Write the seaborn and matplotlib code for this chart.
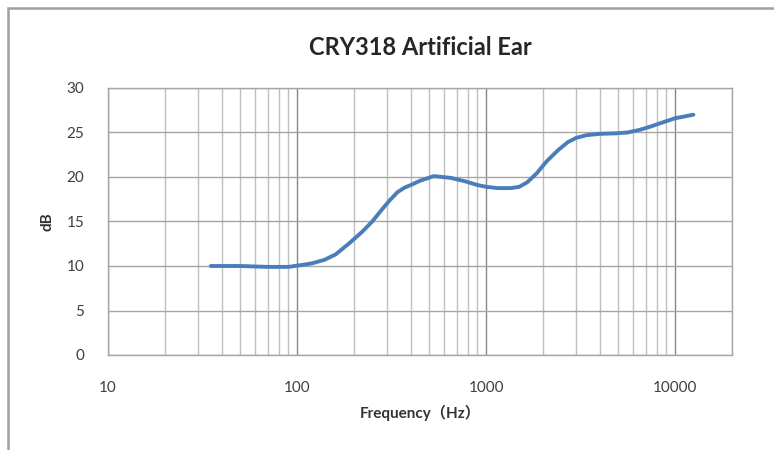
#!/usr/bin/env python3
# CRY318 artificial ear frequency response (log x axis)

import pandas as pd
import matplotlib.pyplot as plt
import seaborn as sns
from matplotlib.patches import Rectangle
from matplotlib.ticker import FixedLocator, LogLocator, NullFormatter

# ============================================================================
# DATA
# ============================================================================
freq_hz = [35, 50, 70, 90, 105, 120, 140, 160, 190, 220, 250, 280, 310, 340,
           370, 400, 450, 530, 650, 780, 900, 1000, 1150, 1350, 1500, 1650,
           1850, 2100, 2400, 2700, 3000, 3400, 4000, 4800, 5600, 6500, 7500,
           8500, 10000, 12500]
level_db = [10.0, 10.0, 9.9, 9.9, 10.1, 10.3, 10.7, 11.3, 12.6, 13.8, 15.0,
            16.3, 17.4, 18.3, 18.8, 19.1, 19.6, 20.1, 19.9, 19.5, 19.1, 18.9,
            18.75, 18.75, 18.9, 19.4, 20.4, 21.8, 23.0, 23.9, 24.4, 24.7,
            24.85, 24.9, 25.0, 25.3, 25.7, 26.1, 26.6, 27.0]
x_ticks = [10, 100, 1000, 10000]
x_tick_labels = ["10", "100", "1000", "10000"]
y_ticks = [0, 5, 10, 15, 20, 25, 30]

df = pd.DataFrame({"freq": freq_hz, "db": level_db})

# ============================================================================
# THEME SETTINGS
# ============================================================================
sns.set_theme(style="white")
plt.rcParams['font.family'] = ['Lato', 'Noto Sans CJK SC', 'DejaVu Sans']

line_blue = '#4A7EBB'
grid_light = '#BFBFBF'
grid_major = '#878787'
text_col = '#404040'

# ============================================================================
# CREATE PLOT
# ============================================================================
fig = plt.figure(figsize=(7.74, 4.5), dpi=100)
ax = fig.add_axes([108 / 774, 1 - 355 / 450, 624 / 774, 267 / 450])

sns.lineplot(data=df, x="freq", y="db", color=line_blue, linewidth=2.8,
             sort=False, ax=ax)

ax.set_xscale('log')
ax.set_xlim(10, 20000)
ax.set_ylim(0, 30)

ax.xaxis.set_major_locator(FixedLocator(x_ticks))
ax.set_xticklabels(x_tick_labels)
ax.xaxis.set_minor_locator(LogLocator(base=10, subs=range(2, 10)))
ax.xaxis.set_minor_formatter(NullFormatter())
ax.set_yticks(y_ticks)

ax.grid(which='minor', axis='x', color=grid_light, linewidth=1.0)
ax.grid(which='major', axis='x', color=grid_major, linewidth=1.0)
ax.grid(which='major', axis='y', color='#A6A6A6', linewidth=1.0)
ax.set_axisbelow(True)

for s in ax.spines.values():
    s.set_color('#A6A6A6')
    s.set_linewidth(1.0)

ax.tick_params(axis='both', which='both', length=0, labelsize=11,
               labelcolor=text_col)
ax.tick_params(axis='x', pad=19)
ax.tick_params(axis='y', pad=17)

ax.set_title("CRY318 Artificial Ear", fontsize=17, fontweight='bold',
             color='#262626', pad=24)
ax.set_xlabel("Frequency（Hz）", fontsize=11, fontweight='bold',
              color='#333333', labelpad=7)
ax.set_ylabel("dB", fontsize=11, fontweight='bold', color='#333333')
ax.yaxis.set_label_coords(-0.086, 0.5)

# chart-area frame like the original spreadsheet export
fig.patches.append(Rectangle((8 / 774, -0.1), 1.1, 1 - 8 / 450 + 0.1,
                             transform=fig.transFigure, fill=False,
                             edgecolor='#A0A0A0', linewidth=1.8))

# ============================================================================
# SAVE OUTPUT
# ============================================================================
plt.savefig("out.png", dpi=100)
print("Plot saved to: out.png")
plt.close()
